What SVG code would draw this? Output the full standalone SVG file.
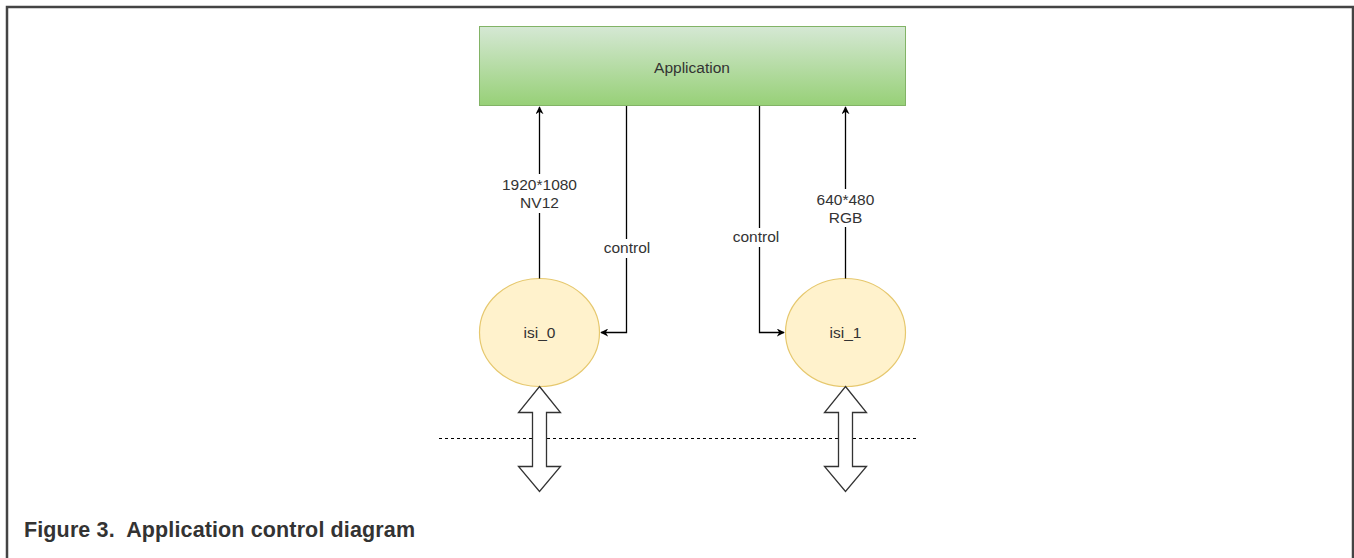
<svg xmlns="http://www.w3.org/2000/svg" width="1354" height="558" viewBox="0 0 1354 558">
<defs>
<linearGradient id="gApp" x1="0" y1="0" x2="0" y2="1">
<stop offset="0" stop-color="#d5e8d4"/>
<stop offset="1" stop-color="#97d077"/>
</linearGradient>
<marker id="arr" viewBox="0 0 10 10" refX="9" refY="5" markerWidth="8" markerHeight="8" markerUnits="userSpaceOnUse" orient="auto">
<path d="M0,0 L10,5 L0,10 L3,5 Z" fill="#000"/>
</marker>
<path id="dbl" d="M0,0 L21,26 L7,26 L7,80 L21,80 L0,105 L-21,80 L-7,80 L-7,26 L-21,26 Z"/>
</defs>
<style>
.lbl{font-family:"Liberation Sans",Arial,sans-serif;font-size:15.5px;fill:#333;text-anchor:middle}
.edge{fill:none;stroke:#000;stroke-width:1.3}
.ell{fill:#fff2cc;stroke:#e6c86e;stroke-width:1.2}
.dbl{fill:#fff;stroke:#333;stroke-width:1.3}
</style>
<rect width="1354" height="558" fill="#fff"/>
<path d="M7,558 V7 H1353 V558" fill="none" stroke="#444" stroke-width="2.5"/>

<g id="application">
<rect x="479.5" y="26.5" width="426" height="79" fill="url(#gApp)" stroke="#82b366" stroke-width="1"/>
<text class="lbl" x="692" y="73">Application</text>
</g>

<g id="isi_0">
<ellipse class="ell" cx="539.5" cy="332.5" rx="60" ry="54"/>
<text class="lbl" x="539.5" y="338">isi_0</text>
</g>

<g id="isi_1">
<ellipse class="ell" cx="845.5" cy="332.5" rx="60" ry="54"/>
<text class="lbl" x="845.5" y="338">isi_1</text>
</g>

<g id="connectors">
<path class="edge" d="M539.5,278.5 V107" marker-end="url(#arr)"/>
<path class="edge" d="M626.5,106 V332.5 H601" marker-end="url(#arr)"/>
<path class="edge" d="M759.5,106 V332.5 H784" marker-end="url(#arr)"/>
<path class="edge" d="M845.5,278.5 V107" marker-end="url(#arr)"/>
<rect x="497" y="174" width="85" height="39" fill="#fff"/>
<text class="lbl" x="539.5" y="190">1920*1080</text>
<text class="lbl" x="539.5" y="208">NV12</text>
<rect x="601" y="239" width="52" height="19" fill="#fff"/>
<text class="lbl" x="627" y="253">control</text>
<rect x="729" y="228" width="54" height="19" fill="#fff"/>
<text class="lbl" x="756" y="242">control</text>
<rect x="816" y="189" width="60" height="38" fill="#fff"/>
<text class="lbl" x="845.5" y="205">640*480</text>
<text class="lbl" x="845.5" y="223">RGB</text>
</g>

<g id="boundary">
<line x1="439" y1="438.5" x2="916" y2="438.5" stroke="#000" stroke-width="1" stroke-dasharray="3,3"/>
</g>

<g id="bus_0">
<use href="#dbl" class="dbl" x="539.5" y="386.5"/>
</g>
<g id="bus_1">
<use href="#dbl" class="dbl" x="845.5" y="386.5"/>
</g>

<text x="24" y="537" font-family="Liberation Sans,Arial,sans-serif" font-size="21.5" font-weight="bold" fill="#333" xml:space="preserve" textLength="391" lengthAdjust="spacing">Figure 3.  Application control diagram</text>
</svg>
